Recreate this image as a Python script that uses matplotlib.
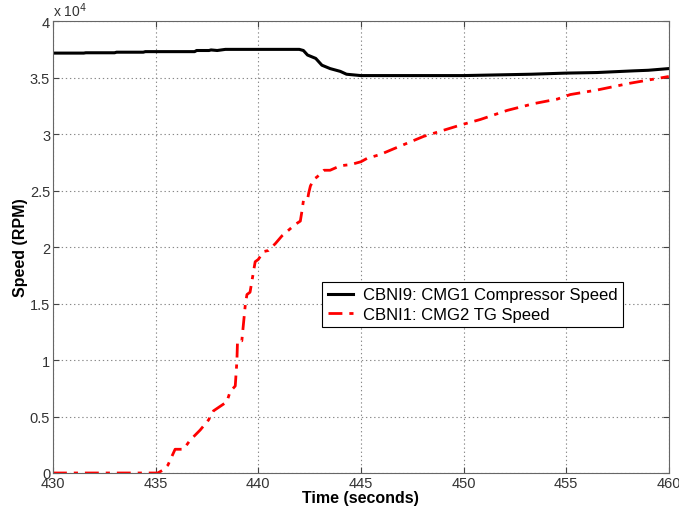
import matplotlib
matplotlib.use("Agg")
import matplotlib.pyplot as plt
import numpy as np

plt.rcParams['font.family'] = ['Liberation Sans', 'DejaVu Sans']

# CBNI9: CMG1 compressor speed (RPM)
comp_t = [430.0, 431.5, 431.6, 433.0, 433.1, 434.4, 434.5, 436.9, 437.0, 437.6, 437.7,
          438.0, 438.4, 442.0, 442.2, 442.4, 442.8, 443.1, 443.5, 444.0, 444.3, 445.0,
          450.0, 453.3, 455.0, 456.5, 458.3, 459.0, 460.0]
comp_v = [37170, 37170, 37200, 37200, 37250, 37250, 37300, 37300, 37400, 37400, 37450,
          37400, 37500, 37500, 37400, 37000, 36700, 36100, 35800, 35550, 35300, 35180,
          35180, 35300, 35400, 35450, 35600, 35650, 35800]

# CBNI1: CMG2 TG speed (RPM)
tg_t = [430.0, 435.1, 435.4, 435.6, 435.95, 436.36, 436.68, 437.17, 437.58, 437.82,
        438.47, 438.63, 438.88, 438.96, 438.99, 439.2, 439.37, 439.45, 439.6, 439.85,
        440.0, 440.26, 440.5, 440.83, 441.16, 441.8, 442.05, 442.13, 442.2, 442.4,
        442.46, 442.54, 442.7, 442.86, 443.2, 443.5, 444.0, 444.5, 445.0, 445.3,
        445.95, 446.6, 448.06, 449.85, 450.83, 452.13, 453.43, 454.57, 455.2, 456.5,
        458.1, 460.0]
tg_v = [0, 0, 300, 700, 2100, 2100, 2900, 3800, 4700, 5500,
        6300, 7200, 7700, 9900, 11700, 11700, 14900, 15800, 16000, 18700,
        18900, 19600, 19700, 20300, 21000, 22000, 22300, 23200, 24100, 24200,
        24800, 25400, 26000, 26200, 26800, 26800, 27200, 27300, 27550, 27850,
        28200, 28700, 29800, 30800, 31300, 32100, 32700, 33100, 33500, 33900,
        34500, 35100]

x_ticks = [430, 435, 440, 445, 450, 455, 460]
y_ticks = [0, 0.5, 1, 1.5, 2, 2.5, 3, 3.5, 4]
scale = 1e4

fig = plt.figure(figsize=(6.79, 5.10), dpi=100)
ax = fig.add_axes([0.078, 0.0706, 0.907, 0.886])

ax.plot(comp_t, np.array(comp_v) / scale, color='black', lw=2.2,
        label='CBNI9: CMG1 Compressor Speed')
ax.plot(tg_t, np.array(tg_v) / scale, color='red', lw=2.0, linestyle=(0, (5, 2.5, 1.5, 2.5)),
        label='CBNI1: CMG2 TG Speed')

ax.set_xlim(430, 460)
ax.set_ylim(0, 4)
ax.set_xticks(x_ticks)
ax.set_yticks(y_ticks)
ax.set_yticklabels([f"{v:g}" for v in y_ticks])
ax.tick_params(direction='in', labelsize=10.5, colors='#444444', labelcolor='#333333',
               length=4, top=True, right=True, pad=2)
for s in ax.spines.values():
    s.set_color('#666666')
    s.set_linewidth(0.8)
ax.grid(True, color='#888888', linestyle=(0, (1.2, 2.5)), linewidth=0.8)

ax.set_xlabel('Time (seconds)', fontsize=11.5, fontweight='bold', labelpad=0)
ax.set_ylabel('Speed (RPM)', fontsize=11.5, fontweight='bold', labelpad=1)
ax.text(0.0, 1.005, r'x 10$^4$', transform=ax.transAxes, fontsize=10, color='#333333',
        ha='left', va='bottom')

leg = ax.legend(loc='lower left', bbox_to_anchor=(0.437, 0.322), fontsize=12,
                fancybox=False, framealpha=1, edgecolor='black', borderpad=0.35,
                handlelength=1.5, handletextpad=0.6, labelspacing=0.25,
                borderaxespad=0)
leg.get_frame().set_linewidth(0.8)

fig.savefig('out.png', dpi=100)
